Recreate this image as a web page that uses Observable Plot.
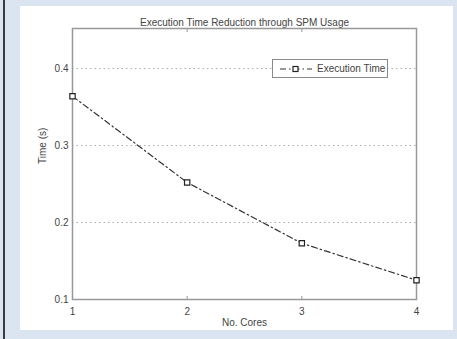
<!DOCTYPE html>
<html>
<head>
<meta charset="utf-8">
<script src="https://cdn.jsdelivr.net/npm/d3@7"></script>
<script src="https://cdn.jsdelivr.net/npm/@observablehq/plot@0.6"></script>
<style>
  html, body { margin: 0; padding: 0; }
  body { width: 457px; height: 339px; background: #dbe5f1; position: relative; overflow: hidden; font-family: "Liberation Sans", Arial, sans-serif; }
  #edge { position: absolute; left: 3px; top: 0; width: 2px; height: 339px; background: #3a3a3a; }
  #panel { position: absolute; left: 20px; top: 6px; width: 433px; height: 324px; background: #ffffff; }
  #chart { position: absolute; left: 0; top: 0; }
  #legend { position: absolute; left: 272px; top: 59px; width: 116px; height: 19px; border: 1px solid #8a8a8a; background: #fff; box-sizing: border-box; display: flex; align-items: center; font-size: 10px; color: #444; }
  #legend svg { margin-left: 6px; margin-right: 4px; }
</style>
</head>
<body>
<div id="edge"></div>
<div id="panel"></div>
<div id="chart"></div>
<div id="legend"><svg width="34" height="10"><line x1="1" y1="5" x2="33" y2="5" stroke="#333" stroke-width="1.2" stroke-dasharray="6,3,1.5,3"></line><rect x="14" y="2.5" width="5" height="5" fill="#fff" stroke="#222" stroke-width="1.2"></rect></svg><span id="legendText"></span></div>
<script>
const cores = [1, 2, 3, 4];
const times = [0.364, 0.252, 0.173, 0.125];
const yTicks = [0.1, 0.2, 0.3, 0.4];
const xTicks = [1, 2, 3, 4];
const title = "Execution Time Reduction through SPM Usage";
const xLabel = "No. Cores";
const yLabel = "Time (s)";
const seriesName = "Execution Time";

const data = cores.map((c, i) => ({cores: c, time: times[i]}));
document.getElementById("legendText").textContent = seriesName;

const chart = Plot.plot({
  width: 457,
  height: 339,
  marginLeft: 72,
  marginRight: 41,
  marginTop: 28,
  marginBottom: 40,
  style: {background: "transparent", fontFamily: "Liberation Sans, Arial, sans-serif", fontSize: "10px", color: "#444"},
  x: {domain: [1, 4]},
  y: {domain: [0.1, 0.452]},
  marks: [
    Plot.gridY(yTicks.slice(1), {stroke: "#999", strokeOpacity: 0.8, strokeDasharray: "1.5,3"}),
    Plot.axisX(xTicks, {anchor: "bottom", tickSize: -3, tickPadding: 11, stroke: "#999", label: null, tickFormat: d => String(d), fill: "#444"}),
    Plot.axisX(xTicks.slice(1, 3), {anchor: "top", tickSize: -3, stroke: "#999", label: null, tickFormat: () => ""}),
    Plot.axisY(yTicks, {anchor: "left", tickSize: 0, tickPadding: 4, label: null, tickFormat: d => d.toFixed(1), fill: "#444"}),
    Plot.text([xLabel], {frameAnchor: "bottom", dy: 26, text: d => d, fill: "#444", fontSize: 10}),
    Plot.text([yLabel], {frameAnchor: "left", dx: -30, rotate: -90, text: d => d, fill: "#444", fontSize: 10}),
    Plot.text([title], {frameAnchor: "top", dy: -10, text: d => d, fill: "#444", fontSize: 10}),
    Plot.frame({stroke: "#999", strokeWidth: 1.5}),
    Plot.line(data, {x: "cores", y: "time", stroke: "#333", strokeWidth: 1.2, strokeDasharray: "6,3,1.5,3"}),
    Plot.dot(data, {x: "cores", y: "time", symbol: "square", r: 3, stroke: "#222", fill: "#fff", strokeWidth: 1.2})
  ]
});
document.getElementById("chart").appendChild(chart);
</script>
</body>
</html>
